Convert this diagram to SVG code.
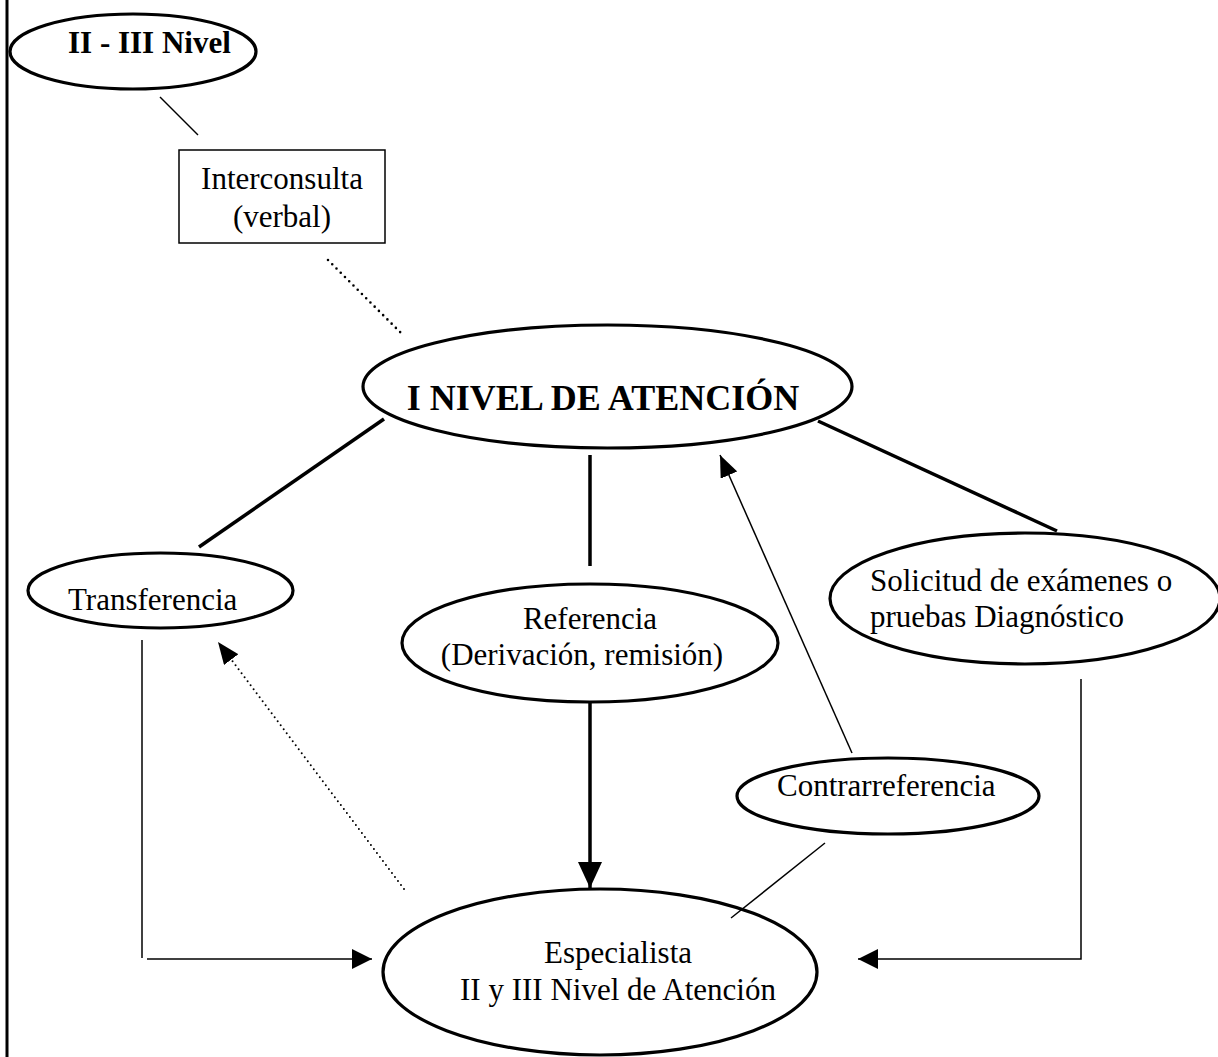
<svg xmlns="http://www.w3.org/2000/svg" width="1218" height="1057" viewBox="0 0 1218 1057">
  <defs>
    <style>
      .node { fill: #fff; stroke: #000; stroke-width: 3.2; }
      .box { fill: #fff; stroke: #000; stroke-width: 1.5; }
      .lbl { font-family: "Liberation Serif", "Times New Roman", serif; font-size: 31px; fill: #000; }
      .bold { font-weight: bold; }
      .title { font-size: 36px; }
      .thick { stroke: #000; stroke-width: 3.5; fill: none; }
      .thin { stroke: #000; stroke-width: 1.5; fill: none; }
      .dots { stroke: #000; stroke-width: 2.6; fill: none; stroke-linecap: round; stroke-dasharray: 0 6; }
      .dots-fine { stroke: #000; stroke-width: 2; fill: none; stroke-linecap: round; stroke-dasharray: 0 5; }
    </style>
    <marker id="arrow" viewBox="0 0 20 20" refX="20" refY="10" markerWidth="20" markerHeight="20" markerUnits="userSpaceOnUse" orient="auto">
      <path d="M0,0 L20,10 L0,20 Z" fill="#000"/>
    </marker>
    <marker id="arrow-big" viewBox="0 0 26 24" refX="26" refY="12" markerWidth="26" markerHeight="24" markerUnits="userSpaceOnUse" orient="auto">
      <path d="M0,0 L26,12 L0,24 Z" fill="#000"/>
    </marker>
    <marker id="arrow-slim" viewBox="0 0 22 18" refX="22" refY="9" markerWidth="22" markerHeight="18" markerUnits="userSpaceOnUse" orient="auto">
      <path d="M0,0 L22,9 L0,18 Z" fill="#000"/>
    </marker>
  </defs>

  <rect width="1218" height="1057" fill="#fff"/>

  <!-- page margin rule -->
  <line x1="7" y1="0" x2="7" y2="1057" stroke="#000" stroke-width="3"/>

  <g id="node-nivel-2-3">
    <ellipse class="node" cx="133" cy="51.5" rx="123" ry="37.5"/>
    <text class="lbl bold" x="68" y="53">II - III Nivel</text>
  </g>

  <g id="node-interconsulta">
    <rect class="box" x="179" y="150" width="206" height="93"/>
    <text class="lbl" x="282" y="189" text-anchor="middle">Interconsulta</text>
    <text class="lbl" x="282" y="227" text-anchor="middle">(verbal)</text>
  </g>

  <g id="node-nivel-1">
    <ellipse class="node" cx="607.5" cy="386.5" rx="244.5" ry="61.5"/>
    <text class="lbl bold title" x="603" y="410" text-anchor="middle">I NIVEL DE ATENCIÓN</text>
  </g>

  <g id="node-transferencia">
    <ellipse class="node" cx="160.5" cy="590.5" rx="132.5" ry="37.5"/>
    <text class="lbl" x="68" y="610">Transferencia</text>
  </g>

  <g id="node-referencia">
    <ellipse class="node" cx="590" cy="643" rx="188" ry="59"/>
    <text class="lbl" x="590" y="629" text-anchor="middle">Referencia</text>
    <text class="lbl" x="582" y="665" text-anchor="middle">(Derivación, remisión)</text>
  </g>

  <g id="node-solicitud">
    <ellipse class="node" cx="1025" cy="598.5" rx="195" ry="65.5"/>
    <text class="lbl" x="870" y="591">Solicitud de exámenes o</text>
    <text class="lbl" x="870" y="627">pruebas Diagnóstico</text>
  </g>

  <g id="node-contrarreferencia">
    <ellipse class="node" cx="888" cy="796" rx="151" ry="38"/>
    <text class="lbl" x="777" y="796">Contrarreferencia</text>
  </g>

  <g id="node-especialista">
    <ellipse class="node" cx="600" cy="972" rx="217" ry="83"/>
    <text class="lbl" x="618" y="963" text-anchor="middle">Especialista</text>
    <text class="lbl" x="618" y="1000" text-anchor="middle">II y III Nivel de Atención</text>
  </g>

  <g id="connectors">
    <!-- II-III Nivel to Interconsulta -->
    <line class="thin" x1="160" y1="97" x2="198" y2="135"/>
    <!-- Interconsulta to I Nivel (dotted) -->
    <line class="dots" x1="328" y1="260" x2="403" y2="335"/>
    <!-- I Nivel branches -->
    <line class="thick" x1="384" y1="419" x2="199" y2="547"/>
    <line class="thick" x1="590" y1="455" x2="590" y2="566"/>
    <line class="thick" x1="818" y1="421" x2="1057" y2="531"/>
    <!-- Referencia down to Especialista -->
    <line class="thick" x1="590" y1="702" x2="590" y2="888" marker-end="url(#arrow-big)"/>
    <!-- Transferencia down and across to Especialista -->
    <line class="thin" x1="142" y1="640" x2="142" y2="958"/>
    <line class="thin" x1="147" y1="959" x2="372" y2="959" marker-end="url(#arrow)"/>
    <!-- Solicitud down and across to Especialista -->
    <polyline class="thin" points="1081,679 1081,959 858,959" marker-end="url(#arrow)"/>
    <!-- Especialista back to Transferencia (dotted) -->
    <line class="dots-fine" x1="404" y1="889" x2="218" y2="642" marker-end="url(#arrow-slim)"/>
    <!-- Contrarreferencia up to I Nivel -->
    <line class="thin" x1="852" y1="753" x2="720" y2="455" marker-end="url(#arrow-slim)"/>
    <!-- Especialista to Contrarreferencia -->
    <line class="thin" x1="731" y1="918" x2="825" y2="843"/>
  </g>
</svg>
